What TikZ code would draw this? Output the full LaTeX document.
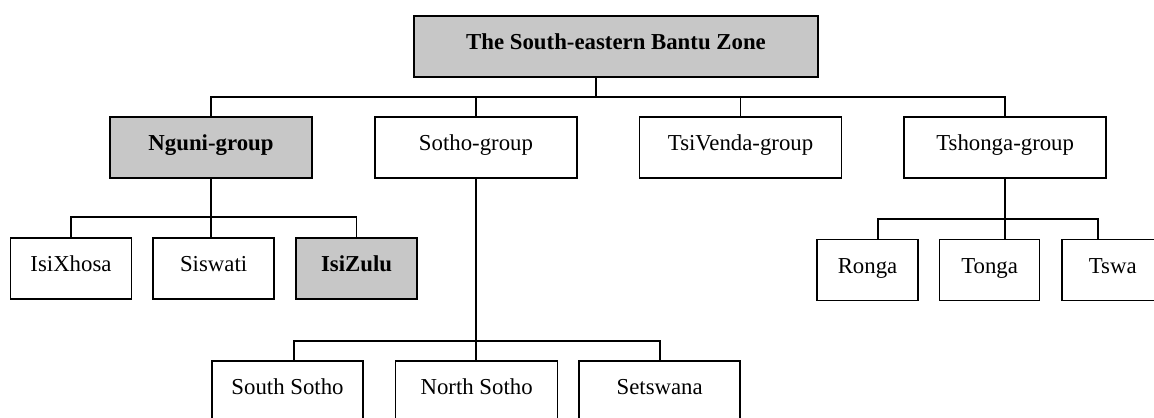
\documentclass[tikz,border=0pt]{standalone}
\usepackage{fontspec}
\setmainfont{Liberation Serif}
\usetikzlibrary{positioning}

\begin{document}
\begin{tikzpicture}[
    x=0.5pt, y=-0.5pt,
    boite/.style={draw, line width=0.8pt, minimum height=30.5pt, inner sep=2pt,
      text height=0.7em, text depth=0.4em, font=\fontsize{11.4}{13}\selectfont},
    grise/.style={boite, fill=black!22, line width=1.15pt,
      font=\fontsize{11.4}{13}\selectfont\bfseries},
    lien/.style={line width=0.8pt},
    node distance=30.5pt,
  ]
  \clip (0,0) rectangle (1154,417);
  \node[grise, minimum width=202pt] (zone) at (616,46.5) {The South-eastern Bantu Zone};
  \node[grise, minimum width=101pt] (nguni) at (211,147.5) {Nguni-group};
  \node[boite, minimum width=101pt, right=of nguni] (sotho) {Sotho-group};
  \node[boite, minimum width=101pt, right=of sotho] (tsivenda) {TsiVenda-group};
  \node[boite, minimum width=101pt, right=of tsivenda] (tshonga) {Tshonga-group};
  % les langues nguni
  \node[boite, minimum width=60.5pt] (isixhosa) at (71,268.5) {IsiXhosa};
  \node[boite, minimum width=60.5pt, right=10pt of isixhosa] (siswati) {Siswati};
  \node[grise, minimum width=60.5pt, right=10pt of siswati] (isizulu) {IsiZulu};
  % les langues sotho
  \node[boite, minimum width=75.5pt] (southsotho) at (287.5,391.5) {South Sotho};
  \node[boite, minimum width=81pt, right=15.5pt of southsotho] (northsotho) {North Sotho};
  \node[boite, minimum width=80.5pt, right=10pt of northsotho] (setswana) {Setswana};
  % les langues tshonga
  \node[boite, minimum width=50.5pt] (ronga) at (867.5,270) {Ronga};
  \node[boite, minimum width=50pt, right=10pt of ronga] (tonga) {Tonga};
  \node[boite, minimum width=50.5pt, right=10.5pt of tonga] (tswa) {Tswa};

  \coordinate (barre) at (596,97);
  \draw[lien] (zone.south -| barre) -- (barre);
  \draw[lien] (nguni.north) |- (barre) -| (tshonga.north);
  \draw[lien] (sotho.north) -- (sotho.north |- barre);
  \draw[lien] (tsivenda.north) -- (tsivenda.north |- barre);
  \draw[lien] (isixhosa.north) -- ++(0,10pt) -| (isizulu.north);
  \draw[lien] (nguni.south) -- (nguni.south |- siswati.north);
  \draw[lien] ([xshift=3.25pt]southsotho.north) -- ++(0,9.5pt) -| (setswana.north);
  \draw[lien] (sotho.south) -- (sotho.south |- northsotho.north);
  \draw[lien] ([xshift=5.25pt]ronga.north) -- ++(0,10pt) -| ([xshift=-7.25pt]tswa.north);
  \draw[lien] (tshonga.south) -- (tshonga.south |- tonga.north);
\end{tikzpicture}
\end{document}
